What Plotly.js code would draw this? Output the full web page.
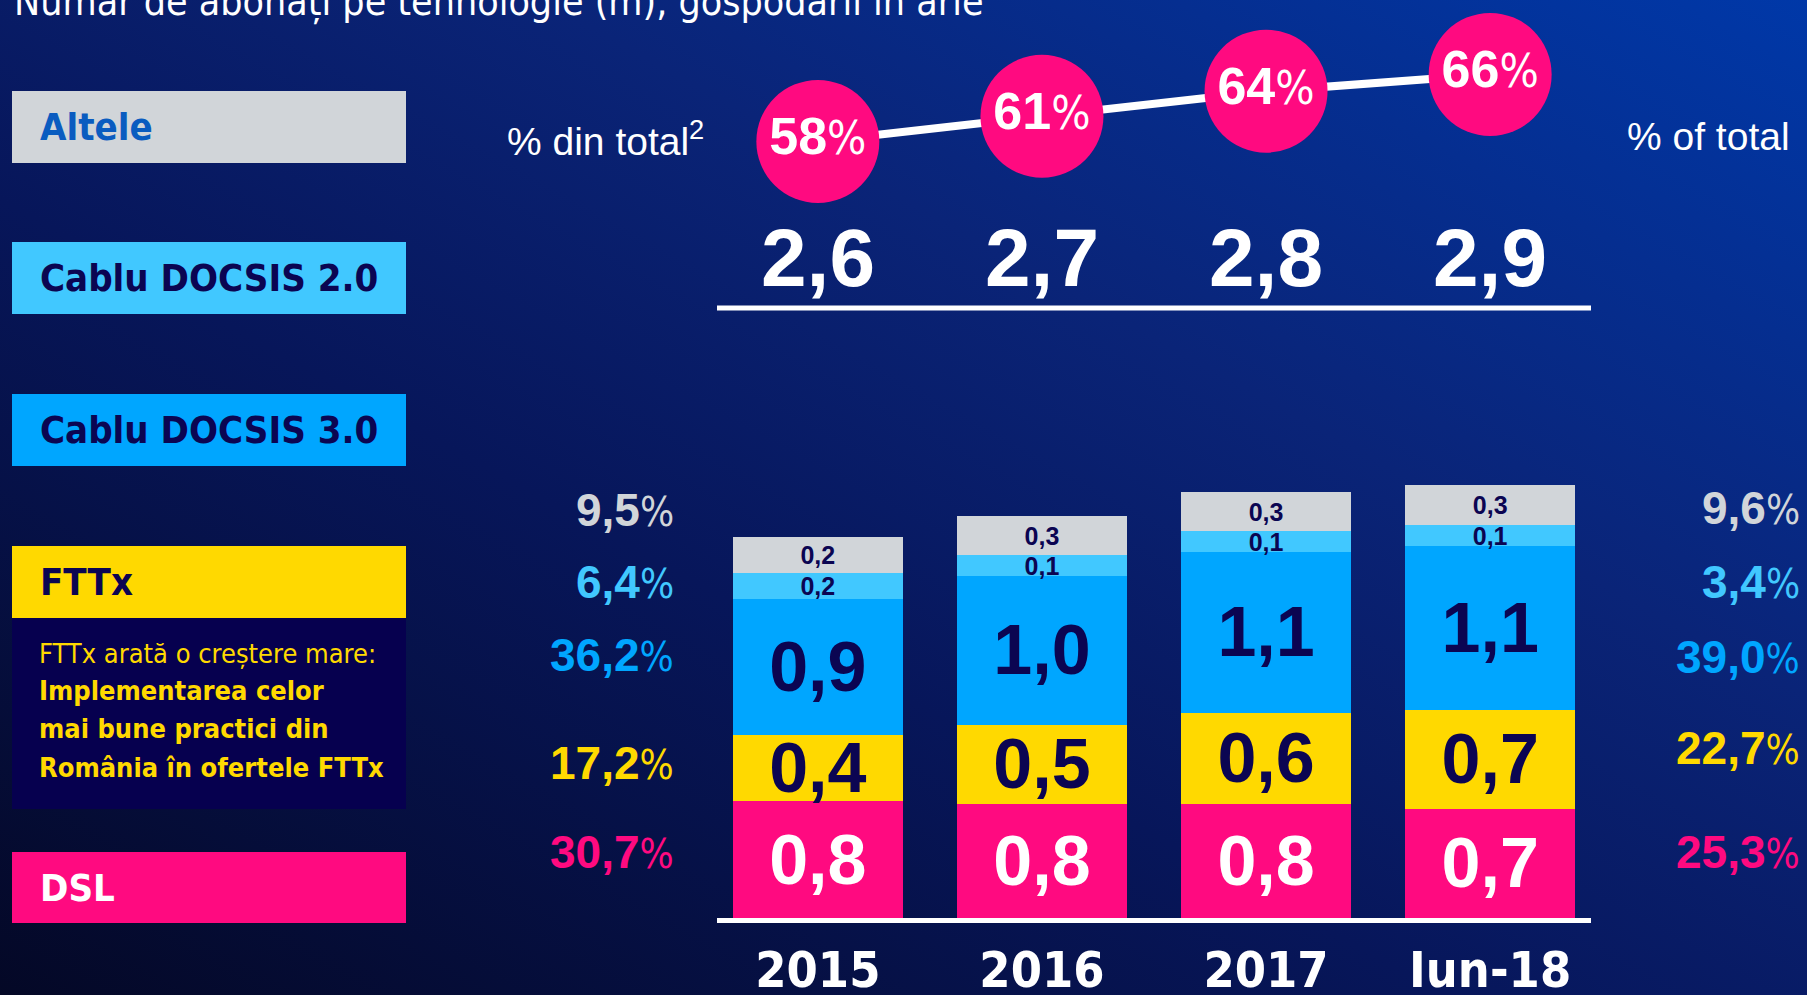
<!DOCTYPE html>
<html>
<head>
<meta charset="utf-8">
<script src="https://cdn.plot.ly/plotly-3.0.1.min.js"></script>
<style>
  html, body { margin: 0; padding: 0; }
  #chart {
    width: 1807px; height: 995px;
    background: linear-gradient(to top right, #040826 0%, #07165a 40%, #0a2478 65%, #0038a8 100%);
  }
</style>
</head>
<body>
<div id="chart"></div>
<script>
// ---------- data ----------
const categories = ['2015', '2016', '2017', 'Iun-18'];
const dsl      = [0.78, 0.76, 0.76, 0.73];
const fttx     = [0.44, 0.53, 0.61, 0.66];
const docsis30 = [0.91, 0.99, 1.07, 1.09];
const docsis20 = [0.17, 0.14, 0.14, 0.14];
const altele   = [0.24, 0.26, 0.26, 0.27];
const totals   = [2.6, 2.7, 2.8, 2.9];
const shareOfTotal = [58, 61, 64, 66];
const seriesNames  = ['DSL', 'FTTx', 'Cablu DOCSIS 3.0', 'Cablu DOCSIS 2.0', 'Altele'];
const pctStart = [30.7, 17.2, 36.2, 6.4, 9.5];   // 2015, same order as seriesNames
const pctEnd   = [25.3, 22.7, 39.0, 3.4, 9.6];   // Iun-18
const titleText = 'Număr de abonați pe tehnologie (m), gospodării în arie';
const noteLines = ['FTTx arată o creștere mare:', 'Implementarea celor', 'mai bune practici din', 'România în ofertele FTTx'];

// ---------- style ----------
const W = 1807, H = 995;
const px = x => x / W;
const py = y => 1 - y / H;
const NAVY = '#0b0552';
const COLORS = { dsl: '#ff0a80', fttx: '#ffd900', d30: '#00a6ff', d20: '#41c8ff', alt: '#d1d5d9' };
const segColors = [COLORS.dsl, COLORS.fttx, COLORS.d30, COLORS.d20, COLORS.alt];
const FONT = 'Liberation Sans, Arial, sans-serif';
const NARROW = 'DejaVu Sans Condensed, Liberation Sans, sans-serif';
const fmt = v => v.toFixed(1).replace('.', ',');

function barTrace(name, vals, color, textColor, size) {
  return {
    type: 'bar', name: name, x: categories, y: vals,
    marker: { color: color, line: { width: 0 } },
    text: vals.map(fmt), textposition: 'inside', insidetextanchor: 'middle',
    constraintext: 'none', textangle: 0,
    textfont: { family: FONT, size: size, color: textColor, weight: 'bold' },
    hoverinfo: 'skip', showlegend: false
  };
}

const traces = [
  barTrace('DSL', dsl, COLORS.dsl, '#ffffff', 70),
  barTrace('FTTx', fttx, COLORS.fttx, NAVY, 70),
  barTrace('Cablu DOCSIS 3.0', docsis30, COLORS.d30, NAVY, 70),
  barTrace('Cablu DOCSIS 2.0', docsis20, COLORS.d20, NAVY, 25),
  barTrace('Altele', altele, COLORS.alt, NAVY, 25),
  {
    type: 'scatter', mode: 'lines+markers+text', x: categories, y: shareOfTotal,
    xaxis: 'x', yaxis: 'y2', cliponaxis: false,
    line: { color: '#ffffff', width: 8 },
    marker: { size: 123, color: COLORS.dsl, line: { width: 0 }, opacity: 1 },
    text: shareOfTotal.map(v => '<b>' + v + '</b><span style="font-family:DejaVu Sans Condensed;font-size:46px">%</span>'),
    textposition: 'middle center',
    textfont: { family: FONT, size: 52, color: '#ffffff' },
    hoverinfo: 'skip', showlegend: false
  }
];

// ---------- shapes & annotations ----------
const shapes = [];
const annotations = [];

// title (cut at top as in the original)
annotations.push({ xref: 'paper', yref: 'paper', x: px(12), y: py(2), xanchor: 'left', yanchor: 'middle',
  text: titleText, showarrow: false, font: { family: NARROW, size: 39, color: '#ffffff' } });

// legend boxes on the left
const boxes = [
  { y0: 91,  y1: 163, fill: COLORS.alt,  label: 'Altele',           color: '#0a5cc0' },
  { y0: 242, y1: 314, fill: COLORS.d20,  label: 'Cablu DOCSIS 2.0', color: NAVY },
  { y0: 394, y1: 466, fill: COLORS.d30,  label: 'Cablu DOCSIS 3.0', color: NAVY },
  { y0: 546, y1: 618, fill: COLORS.fttx, label: 'FTTx',             color: NAVY },
  { y0: 852, y1: 923, fill: COLORS.dsl,  label: 'DSL',              color: '#ffffff' }
];
boxes.forEach(b => {
  shapes.push({ type: 'rect', xref: 'paper', yref: 'paper', x0: px(12), x1: px(406), y0: py(b.y1), y1: py(b.y0),
    fillcolor: b.fill, line: { width: 0 }, layer: 'below' });
  annotations.push({ xref: 'paper', yref: 'paper', x: px(38), y: py((b.y0 + b.y1) / 2), xanchor: 'left', yanchor: 'middle',
    text: '<b>' + b.label + '</b>', showarrow: false, font: { family: NARROW, size: 38, color: b.color } });
});
// dark note box under FTTx
shapes.push({ type: 'rect', xref: 'paper', yref: 'paper', x0: px(12), x1: px(406), y0: py(809), y1: py(618),
  fillcolor: '#06004f', line: { width: 0 }, layer: 'below' });
const noteY = [653, 690, 728, 767];
noteLines.forEach((t, i) => {
  annotations.push({ xref: 'paper', yref: 'paper', x: px(37), y: py(noteY[i]), xanchor: 'left', yanchor: 'middle',
    text: i === 0 ? t : '<b>' + t + '</b>', showarrow: false, font: { family: NARROW, size: 27, color: '#ffd900' } });
});

// "% din total" / "% of total"
annotations.push({ xref: 'paper', yref: 'paper', x: px(505), y: py(138), xanchor: 'left', yanchor: 'middle',
  text: '% din total<sup>2</sup>', showarrow: false, font: { family: FONT, size: 39, color: '#ffffff' } });
annotations.push({ xref: 'paper', yref: 'paper', x: px(1792), y: py(137), xanchor: 'right', yanchor: 'middle',
  text: '% of total', showarrow: false, font: { family: FONT, size: 39, color: '#ffffff' } });

// totals above the bars (x given as category index on the category axis)
categories.forEach((c, i) => {
  annotations.push({ xref: 'x', yref: 'paper', x: i, y: py(258), xanchor: 'center', yanchor: 'middle',
    text: '<b>' + fmt(totals[i]) + '</b>', showarrow: false, font: { family: FONT, size: 82, color: '#ffffff' } });
});
shapes.push({ type: 'line', xref: 'x', yref: 'paper', x0: -0.45, x1: 3.45, y0: py(308), y1: py(308),
  line: { color: '#ffffff', width: 5 } });

// share labels left (2015) and right (Iun-18)
const leftY  = [852, 763, 655, 582, 510];
const rightY = [852, 748, 657, 582, 508];
function pctLabel(v) {
  return '<b>' + fmt(v) + '</b><span style="font-family:DejaVu Sans Condensed;font-size:40px">%</span>';
}
pctStart.forEach((v, i) => {
  annotations.push({ xref: 'paper', yref: 'paper', x: px(676), y: py(leftY[i]), xanchor: 'right', yanchor: 'middle',
    text: pctLabel(v), showarrow: false, font: { family: FONT, size: 46, color: segColors[i] } });
});
pctEnd.forEach((v, i) => {
  annotations.push({ xref: 'paper', yref: 'paper', x: px(1802), y: py(rightY[i]), xanchor: 'right', yanchor: 'middle',
    text: pctLabel(v), showarrow: false, font: { family: FONT, size: 46, color: segColors[i] } });
});

const layout = {
  width: W, height: H,
  margin: { l: 0, r: 0, t: 0, b: 0, pad: 0 },
  paper_bgcolor: 'rgba(0,0,0,0)', plot_bgcolor: 'rgba(0,0,0,0)',
  barmode: 'stack', bargap: 0.241,
  showlegend: false,
  xaxis: {
    domain: [px(717), px(1591)], range: [-0.45, 3.45], type: 'category',
    showgrid: false, zeroline: false, showline: true, linecolor: '#ffffff', linewidth: 5,
    ticks: '', ticklabelstandoff: 4,
    tickfont: { family: NARROW, size: 50, color: '#ffffff', weight: 'bold' },
    fixedrange: true
  },
  yaxis: {
    domain: [py(918), py(468)], range: [0, 3.0], visible: false, fixedrange: true
  },
  yaxis2: {
    domain: [py(200), py(20)], range: [51, 72.5], visible: false, anchor: 'x', fixedrange: true
  },
  shapes: shapes,
  annotations: annotations
};

Plotly.newPlot('chart', traces, layout, { displayModeBar: false, staticPlot: true });
</script>
</body>
</html>
